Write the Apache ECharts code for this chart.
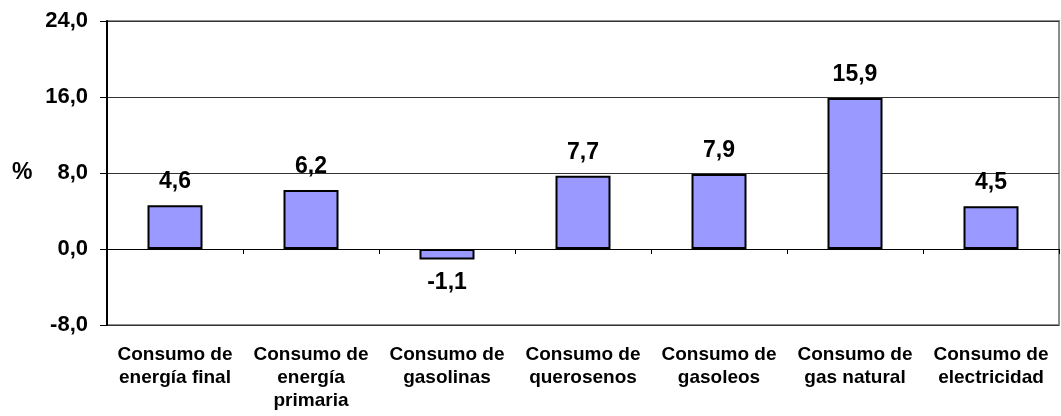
<!DOCTYPE html>
<html>
<head>
<meta charset="utf-8">
<script src="https://cdn.jsdelivr.net/npm/echarts@6/dist/echarts.min.js"></script>
<style>
  html, body { margin: 0; padding: 0; background: #fff; }
  #chart { width: 1061px; height: 416px; }
</style>
</head>
<body>
<div id="chart"></div>
<script>
const categories = [
  'Consumo de\nenergía final',
  'Consumo de\nenergía\nprimaria',
  'Consumo de\ngasolinas',
  'Consumo de\nquerosenos',
  'Consumo de\ngasoleos',
  'Consumo de\ngas natural',
  'Consumo de\nelectricidad'
];
const values = [4.6, 6.2, -1.1, 7.7, 7.9, 15.9, 4.5];
const yMin = -8;
const yMax = 24;
const yStep = 8;

const fontFamily = '"Liberation Sans", Arial, sans-serif';
const fmt = v => v.toFixed(1).replace('.', ',');

const chart = echarts.init(document.getElementById('chart'));

const option = {
  animation: false,
  backgroundColor: '#fff',
  grid: {
    left: 107, right: 2, top: 21, bottom: 91,
    show: true, borderColor: '#8c8c8c', borderWidth: 2
  },
  graphic: [{
    type: 'text',
    left: 12, top: 161,
    style: { text: '%', font: 'bold 23px ' + fontFamily, fill: '#000' }
  }],
  xAxis: [
    {
      type: 'category',
      data: categories,
      position: 'bottom',
      axisLine: { show: false, onZero: false },
      axisTick: { show: false },
      axisLabel: {
        interval: 0,
        margin: 18,
        color: '#000',
        fontFamily: fontFamily,
        fontWeight: 'bold',
        fontSize: 19,
        lineHeight: 23,
        align: 'center'
      }
    },
    {
      type: 'category',
      data: categories,
      position: 'bottom',
      axisLine: { show: true, onZero: true, lineStyle: { color: '#000', width: 1 } },
      axisTick: { show: true, inside: false, length: 5, lineStyle: { color: '#000' } },
      axisLabel: { show: false },
      splitLine: { show: false }
    }
  ],
  yAxis: {
    type: 'value',
    min: yMin,
    max: yMax,
    interval: yStep,
    axisLine: { show: true, lineStyle: { color: '#000', width: 2 } },
    axisTick: { show: true, length: 7, lineStyle: { color: '#000' } },
    axisLabel: {
      formatter: fmt,
      margin: 19,
      color: '#000',
      fontFamily: fontFamily,
      fontWeight: 'bold',
      fontSize: 22
    },
    splitLine: { show: true, lineStyle: { color: '#333', width: 1 } }
  },
  series: [{
    type: 'bar',
    xAxisIndex: 0,
    barWidth: 55,
    data: values.map(v => ({
      value: v,
      label: { position: v < 0 ? 'bottom' : 'top' }
    })),
    itemStyle: { color: '#9999ff', borderColor: '#000', borderWidth: 2 },
    label: {
      show: true,
      distance: 12,
      formatter: p => fmt(p.value),
      color: '#000',
      fontFamily: fontFamily,
      fontWeight: 'bold',
      fontSize: 23
    }
  }]
};

chart.setOption(option);
</script>
</body>
</html>
